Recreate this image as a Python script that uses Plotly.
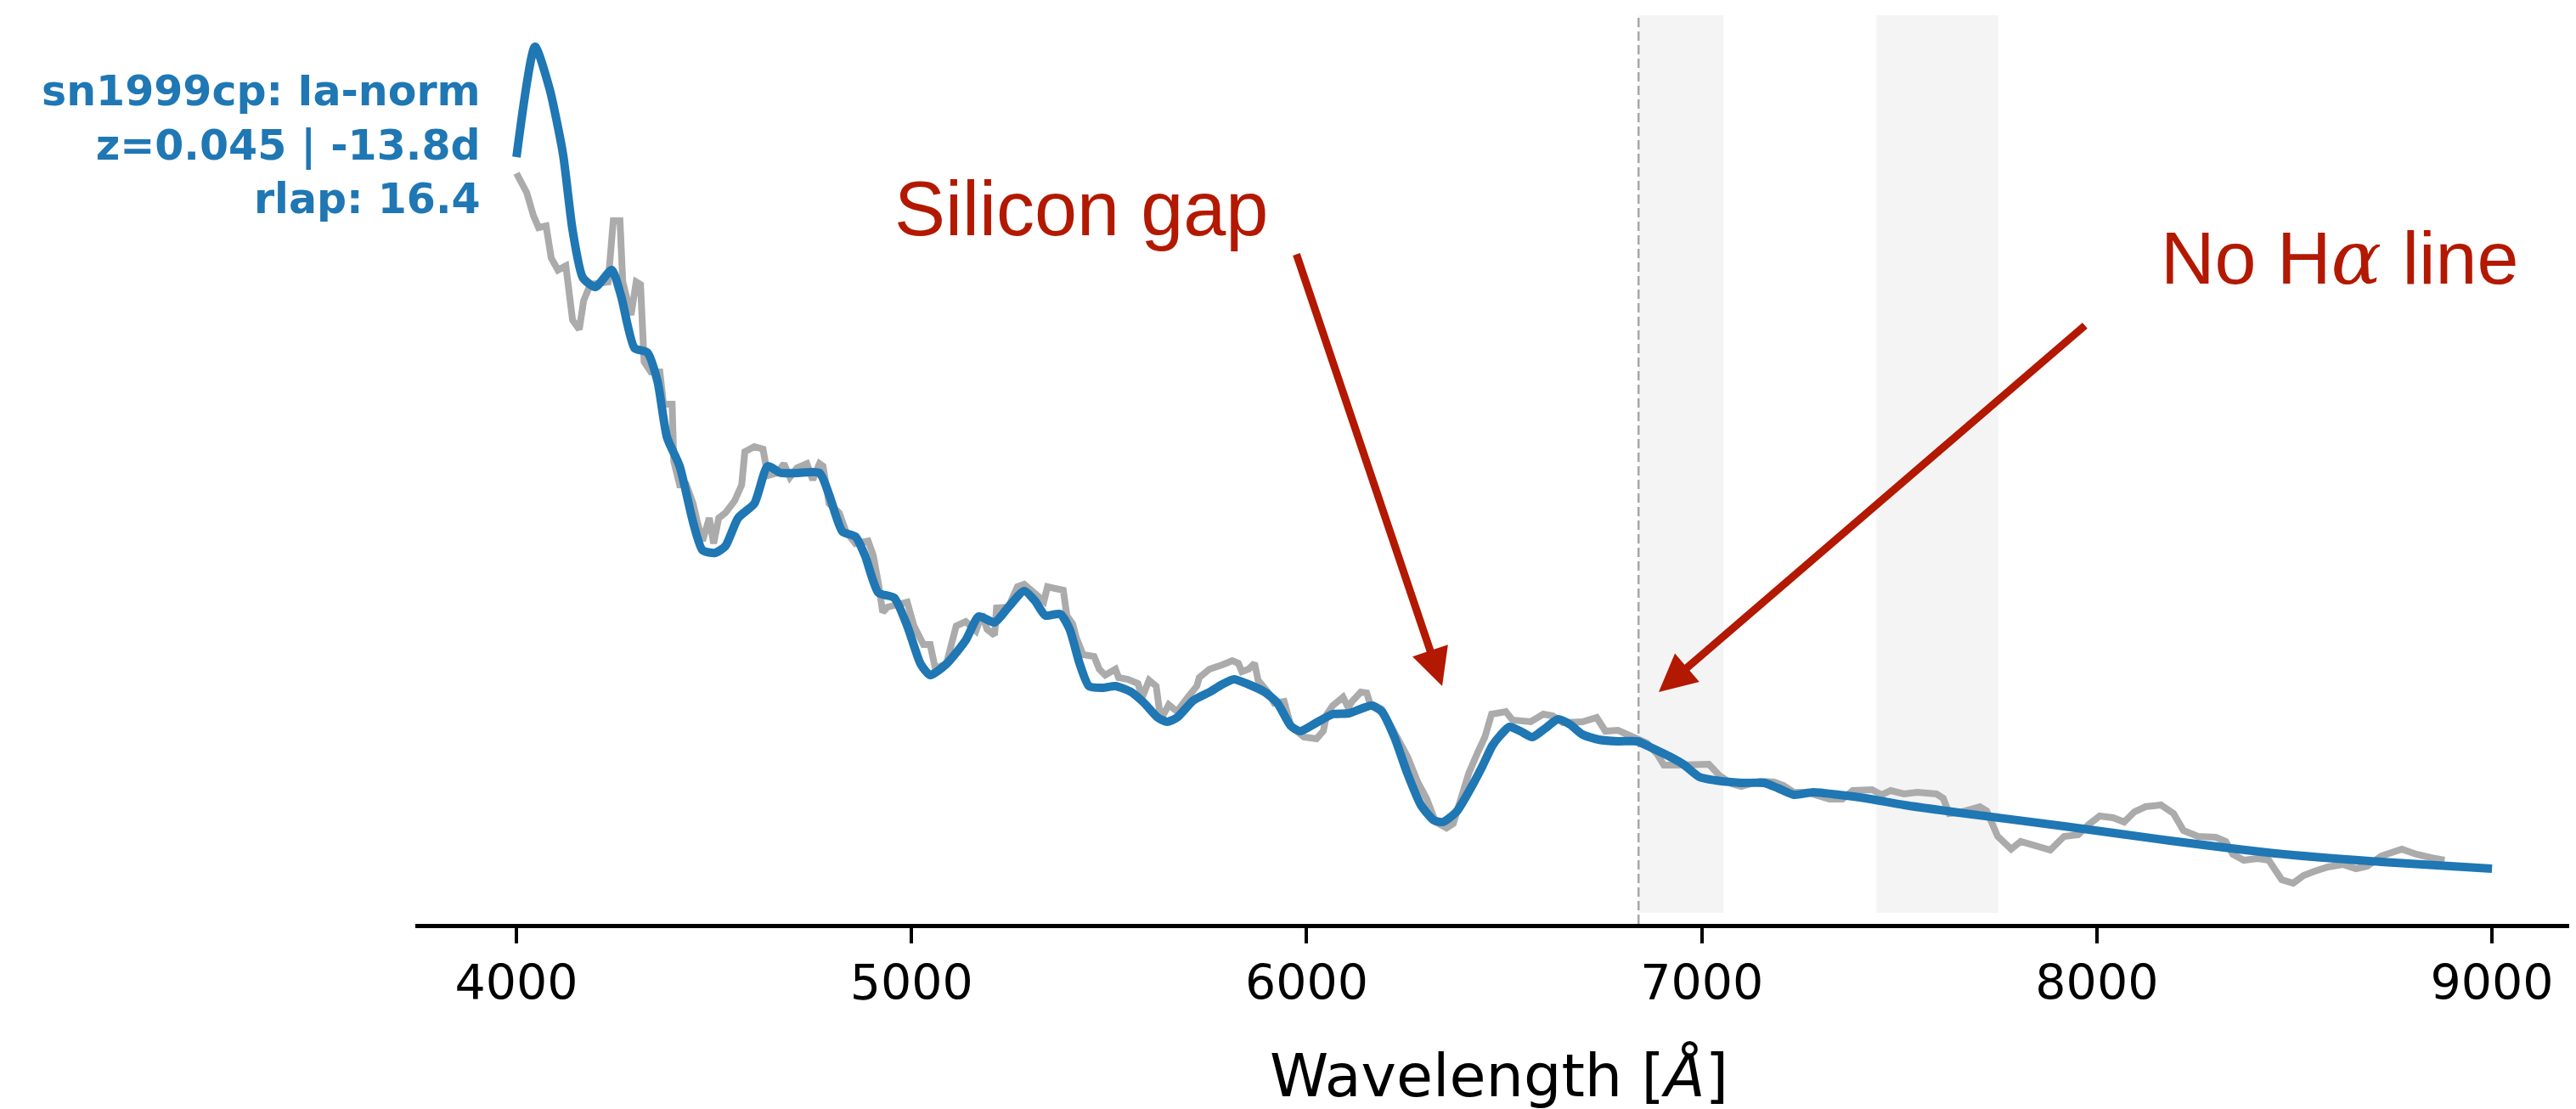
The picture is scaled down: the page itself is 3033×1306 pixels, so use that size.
import plotly.graph_objects as go

# ---- data: template (smooth, blue) ----
template_wave = [4000, 4047, 4084, 4118, 4142, 4168, 4200, 4241, 4265, 4299, 4331, 4357, 4381, 4413,
                 4447, 4471, 4503, 4529, 4561, 4602, 4636, 4669, 4710, 4767, 4791, 4825, 4858, 4882,
                 4916, 4956, 4989, 5023, 5047, 5088, 5137, 5170, 5210, 5245, 5285, 5313, 5339, 5376,
                 5400, 5425, 5449, 5483, 5516, 5556, 5589, 5623, 5647, 5672, 5713, 5754, 5786, 5816,
                 5853, 5894, 5926, 5960, 5984, 6025, 6066, 6107, 6164, 6190, 6222, 6255, 6289, 6322,
                 6345, 6379, 6412, 6444, 6470, 6490, 6513, 6541, 6571, 6603, 6636, 6666, 6698, 6739,
                 6788, 6837, 6870, 6919, 6953, 6994, 7035, 7100, 7158, 7192, 7233, 7282, 7347, 7414,
                 7512, 7650, 7917, 8185, 8452, 8720, 9000]
template_flux = [0.903, 1.033, 0.983, 0.906, 0.817, 0.761, 0.750, 0.770, 0.739, 0.678, 0.673, 0.639,
                 0.573, 0.539, 0.473, 0.440, 0.437, 0.445, 0.478, 0.495, 0.539, 0.531, 0.531, 0.531,
                 0.506, 0.462, 0.456, 0.434, 0.390, 0.384, 0.351, 0.306, 0.293, 0.306, 0.334, 0.362,
                 0.355, 0.373, 0.392, 0.380, 0.363, 0.365, 0.347, 0.307, 0.280, 0.278, 0.280, 0.273,
                 0.260, 0.243, 0.238, 0.243, 0.263, 0.273, 0.282, 0.288, 0.282, 0.273, 0.260, 0.233,
                 0.227, 0.237, 0.247, 0.248, 0.257, 0.250, 0.220, 0.177, 0.140, 0.122, 0.120, 0.132,
                 0.157, 0.185, 0.210, 0.222, 0.232, 0.227, 0.220, 0.230, 0.241, 0.235, 0.223, 0.217,
                 0.215, 0.215, 0.208, 0.197, 0.188, 0.173, 0.169, 0.166, 0.166, 0.160, 0.152, 0.155,
                 0.152, 0.148, 0.140, 0.131, 0.115, 0.098, 0.083, 0.073, 0.065]

# ---- data: observed spectrum (noisy, gray) ----
obs_wave = [4000, 4026, 4043, 4056, 4075, 4088, 4105, 4125, 4142, 4159, 4170, 4187, 4232, 4245, 4262,
            4269, 4290, 4303, 4314, 4323, 4340, 4363, 4372, 4394, 4398, 4413, 4430, 4447, 4458, 4471,
            4488, 4499, 4512, 4529, 4552, 4570, 4578, 4602, 4624, 4636, 4660, 4677, 4692, 4710, 4735,
            4750, 4767, 4776, 4791, 4817, 4834, 4858, 4890, 4903, 4916, 4927, 4939, 4961, 4989, 5006,
            5030, 5047, 5060, 5088, 5113, 5137, 5163, 5178, 5191, 5210, 5215, 5245, 5268, 5285, 5309,
            5335, 5344, 5384, 5393, 5408, 5417, 5434, 5462, 5475, 5490, 5516, 5524, 5548, 5573, 5584,
            5601, 5619, 5627, 5638, 5651, 5672, 5696, 5722, 5728, 5754, 5786, 5812, 5827, 5836, 5853,
            5868, 5877, 5902, 5918, 5943, 5960, 5993, 6025, 6042, 6051, 6066, 6092, 6105, 6115, 6137,
            6152, 6160, 6190, 6214, 6240, 6255, 6281, 6304, 6326, 6354, 6371, 6410, 6434, 6451, 6468,
            6504, 6521, 6567, 6599, 6623, 6648, 6698, 6734, 6756, 6788, 6820, 6861, 6887, 6904, 6936,
            6986, 7018, 7044, 7076, 7100, 7149, 7183, 7207, 7233, 7265, 7323, 7356, 7382, 7431, 7455,
            7478, 7512, 7545, 7594, 7611, 7626, 7650, 7704, 7721, 7749, 7783, 7807, 7846, 7882, 7917,
            7953, 7979, 8007, 8041, 8069, 8095, 8123, 8162, 8194, 8219, 8256, 8301, 8326, 8344, 8372,
            8406, 8435, 8452, 8468, 8497, 8523, 8551, 8585, 8622, 8656, 8684, 8720, 8772, 8808, 8845,
            8880]
obs_flux = [0.884, 0.861, 0.834, 0.820, 0.822, 0.784, 0.770, 0.775, 0.711, 0.700, 0.734, 0.753, 0.756,
            0.828, 0.828, 0.756, 0.717, 0.756, 0.753, 0.662, 0.650, 0.650, 0.612, 0.612, 0.545, 0.517,
            0.517, 0.495, 0.473, 0.451, 0.478, 0.448, 0.478, 0.484, 0.498, 0.517, 0.556, 0.562, 0.559,
            0.528, 0.531, 0.542, 0.526, 0.537, 0.542, 0.523, 0.542, 0.539, 0.495, 0.484, 0.462, 0.448,
            0.451, 0.434, 0.401, 0.367, 0.373, 0.376, 0.379, 0.351, 0.329, 0.329, 0.301, 0.306, 0.351,
            0.356, 0.345, 0.365, 0.347, 0.340, 0.372, 0.373, 0.397, 0.400, 0.390, 0.380, 0.397, 0.393,
            0.363, 0.353, 0.337, 0.317, 0.315, 0.300, 0.293, 0.300, 0.290, 0.288, 0.283, 0.267, 0.287,
            0.280, 0.253, 0.247, 0.258, 0.250, 0.265, 0.280, 0.290, 0.300, 0.305, 0.310, 0.307, 0.297,
            0.300, 0.307, 0.287, 0.273, 0.260, 0.262, 0.233, 0.220, 0.218, 0.227, 0.247, 0.257, 0.267,
            0.255, 0.262, 0.273, 0.272, 0.260, 0.253, 0.233, 0.213, 0.197, 0.167, 0.147, 0.120, 0.113,
            0.118, 0.177, 0.203, 0.220, 0.247, 0.250, 0.240, 0.238, 0.247, 0.245, 0.237, 0.238, 0.243,
            0.227, 0.228, 0.222, 0.213, 0.200, 0.187, 0.187, 0.187, 0.188, 0.175, 0.165, 0.162, 0.168,
            0.167, 0.163, 0.155, 0.155, 0.147, 0.147, 0.157, 0.158, 0.152, 0.157, 0.153, 0.155, 0.153,
            0.148, 0.130, 0.131, 0.138, 0.133, 0.103, 0.088, 0.097, 0.092, 0.087, 0.103, 0.105, 0.117,
            0.127, 0.125, 0.120, 0.132, 0.138, 0.140, 0.130, 0.110, 0.103, 0.102, 0.097, 0.082, 0.075,
            0.077, 0.075, 0.063, 0.052, 0.048, 0.057, 0.062, 0.067, 0.070, 0.065, 0.068, 0.080, 0.088,
            0.082, 0.078, 0.075]

# ---- reference markers ----
halpha_obs = 6840                      # redshifted H-alpha marker
telluric_bands = [(6840, 7055), (7442, 7750)]
tick_values = [4000, 5000, 6000, 7000, 8000, 9000]
info_lines = ["sn1999cp: Ia-norm", "z=0.045 | -13.8d", "rlap: 16.4"]

BLUE = "#1f77b4"
GRAY = "#ababab"
RED = "#b31800"

fig = go.Figure()

fig.add_trace(go.Scatter(x=obs_wave, y=obs_flux, mode="lines",
                         line=dict(color=GRAY, width=8), hoverinfo="skip", showlegend=False))
fig.add_trace(go.Scatter(x=template_wave, y=template_flux, mode="lines",
                         line=dict(color=BLUE, width=10, shape="spline", smoothing=0.6),
                         hoverinfo="skip", showlegend=False))
# empty trace so the tick-mark overlay axis gets drawn
fig.add_trace(go.Scatter(x=[None], y=[None], xaxis="x2", yaxis="y", mode="lines",
                         hoverinfo="skip", showlegend=False))

shapes = []
for x0, x1 in telluric_bands:
    shapes.append(dict(type="rect", xref="x", yref="y", x0=x0, x1=x1, y0=0.013, y1=1.07,
                       fillcolor="#f4f4f4", line=dict(width=0), layer="below"))
shapes.append(dict(type="line", xref="x", yref="y", x0=halpha_obs, x1=halpha_obs, y0=0.0, y1=1.07,
                   line=dict(color="#a8a8a8", width=2.5, dash="11px,5px"), layer="below"))

annotations = [
    dict(x=3913, y=0.917, xref="x", yref="y", xanchor="right", yanchor="middle", align="right",
         text="<b>" + "<br>".join(info_lines) + "</b>", showarrow=False,
         font=dict(family="DejaVu Sans", size=49, color=BLUE)),
    dict(x=4952, y=0.842, xref="x", yref="y", xanchor="left", yanchor="middle",
         text="Silicon gap", showarrow=False,
         font=dict(family="Liberation Sans, Arial", size=90, color=RED)),
    dict(x=8158, y=0.785, xref="x", yref="y", xanchor="left", yanchor="middle",
         text='No H<span style="font-family:DejaVu Serif"><i>α</i></span> line', showarrow=False,
         font=dict(family="Liberation Sans, Arial", size=88, color=RED)),
    dict(x=6343, y=0.280, ax=5973, ay=0.790, xref="x", yref="y", axref="x", ayref="y",
         text="", showarrow=True, arrowhead=2, arrowsize=0.98, arrowwidth=9, arrowcolor=RED),
    dict(x=6891, y=0.273, ax=7973, ay=0.706, xref="x", yref="y", axref="x", ayref="y",
         text="", showarrow=True, arrowhead=2, arrowsize=0.98, arrowwidth=9, arrowcolor=RED),
]

x_range = [3744, 3744 + 2552 / 0.4652]

fig.update_layout(
    width=3033, height=1306,
    margin=dict(l=481, r=0, t=10, b=226, autoexpand=False),
    paper_bgcolor="white", plot_bgcolor="white",
    shapes=shapes, annotations=annotations,
    # main axis: spine + labels (invisible ticks set the label distance)
    xaxis=dict(range=x_range, tickmode="array", tickvals=tick_values,
               ticktext=[str(v) for v in tick_values],
               showgrid=False, zeroline=False, showline=True, linecolor="black", linewidth=5,
               ticks="outside", ticklen=16, tickwidth=1, tickcolor="rgba(0,0,0,0)",
               tickfont=dict(family="DejaVu Sans", size=57, color="black"),
               title=dict(text="Wavelength [<i>Å</i>]", standoff=54,
                          font=dict(family="DejaVu Sans", size=70, color="black"))),
    # overlay axis: only the visible tick marks
    xaxis2=dict(range=x_range, overlaying="x", side="bottom", anchor="y",
                tickmode="array", tickvals=tick_values, showticklabels=False,
                showgrid=False, zeroline=False, showline=False,
                ticks="outside", ticklen=22, tickwidth=4, tickcolor="black"),
    yaxis=dict(range=[0, 1.07], visible=False, showgrid=False, zeroline=False),
)

fig.write_html("out.html")
